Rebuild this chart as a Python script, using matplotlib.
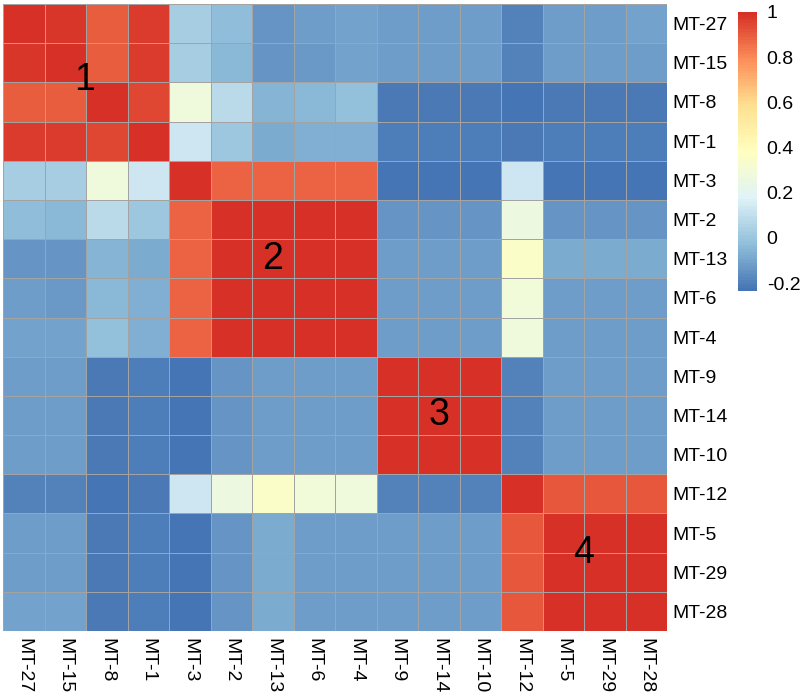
import numpy as np
import matplotlib
matplotlib.use("Agg")
import matplotlib.pyplot as plt
from matplotlib.colors import LinearSegmentedColormap

labels = ["MT-27", "MT-15", "MT-8", "MT-1", "MT-3", "MT-2", "MT-13", "MT-6",
          "MT-4", "MT-9", "MT-14", "MT-10", "MT-12", "MT-5", "MT-29", "MT-28"]

r_mt27 = [1.00, 0.98, 0.90, 0.97, 0.03, -0.03, -0.14, -0.12, -0.11, -0.12, -0.12, -0.12, -0.19, -0.12, -0.12, -0.11]
r_mt15 = [0.98, 1.00, 0.90, 0.97, 0.03, -0.04, -0.14, -0.13, -0.11, -0.12, -0.12, -0.12, -0.19, -0.12, -0.12, -0.12]
r_mt8  = [0.90, 0.90, 1.00, 0.95, 0.28, 0.08, -0.05, -0.04, -0.02, -0.22, -0.22, -0.22, -0.23, -0.22, -0.22, -0.22]
r_mt1  = [0.97, 0.97, 0.95, 1.00, 0.13, 0.00, -0.08, -0.07, -0.07, -0.20, -0.20, -0.20, -0.22, -0.20, -0.20, -0.20]
r_mt3  = [0.03, 0.03, 0.28, 0.13, 1.00, 0.88, 0.88, 0.88, 0.88, -0.23, -0.23, -0.23, 0.13, -0.23, -0.23, -0.23]
r_mt2  = [-0.03, -0.04, 0.08, 0.00, 0.88, 1.00, 0.99, 0.99, 0.99, -0.14, -0.14, -0.14, 0.27, -0.14, -0.14, -0.14]
r_mt13 = [-0.14, -0.14, -0.05, -0.08, 0.88, 0.99, 1.00, 0.99, 0.99, -0.12, -0.12, -0.12, 0.35, -0.08, -0.08, -0.08]
r_mt6  = [-0.12, -0.13, -0.04, -0.07, 0.88, 0.99, 0.99, 1.00, 0.99, -0.12, -0.12, -0.12, 0.29, -0.12, -0.12, -0.12]
r_mt4  = [-0.11, -0.11, -0.02, -0.07, 0.88, 0.99, 0.99, 0.99, 1.00, -0.12, -0.12, -0.12, 0.28, -0.12, -0.12, -0.12]
r_mt9  = [-0.12, -0.12, -0.22, -0.20, -0.23, -0.14, -0.12, -0.12, -0.12, 1.00, 0.99, 0.99, -0.19, -0.12, -0.12, -0.12]
r_mt14 = [-0.12, -0.12, -0.22, -0.20, -0.23, -0.14, -0.12, -0.12, -0.12, 0.99, 1.00, 0.99, -0.19, -0.12, -0.12, -0.12]
r_mt10 = [-0.12, -0.12, -0.22, -0.20, -0.23, -0.14, -0.12, -0.12, -0.12, 0.99, 0.99, 1.00, -0.19, -0.12, -0.12, -0.12]
r_mt12 = [-0.19, -0.19, -0.23, -0.22, 0.13, 0.27, 0.35, 0.29, 0.28, -0.19, -0.19, -0.19, 1.00, 0.91, 0.91, 0.91]
r_mt5  = [-0.12, -0.12, -0.22, -0.20, -0.23, -0.14, -0.08, -0.12, -0.12, -0.12, -0.12, -0.12, 0.91, 1.00, 0.99, 0.99]
r_mt29 = [-0.12, -0.12, -0.22, -0.20, -0.23, -0.14, -0.08, -0.12, -0.12, -0.12, -0.12, -0.12, 0.91, 0.99, 1.00, 0.99]
r_mt28 = [-0.11, -0.11, -0.22, -0.20, -0.23, -0.14, -0.08, -0.12, -0.12, -0.12, -0.12, -0.12, 0.91, 0.99, 0.99, 1.00]

matrix = np.array([r_mt27, r_mt15, r_mt8, r_mt1, r_mt3, r_mt2, r_mt13, r_mt6, r_mt4,
                   r_mt9, r_mt14, r_mt10, r_mt12, r_mt5, r_mt29, r_mt28])

cluster_labels = ["1", "2", "3", "4"]
cluster_x = [1.97, 6.5, 10.5, 14.0]
cluster_y = [1.95, 6.5, 10.5, 14.0]

cbar_ticks = [-0.2, 0, 0.2, 0.4, 0.6, 0.8, 1]
vmin, vmax = -0.235, 1.0

palette = ["#4575B4", "#91BFDB", "#E0F3F8", "#FFFFBF", "#FEE090", "#FC8D59", "#D73027"]
cmap = LinearSegmentedColormap.from_list("rdylbu_r", palette, N=100)

plt.rcParams['font.family'] = ['Liberation Sans', 'DejaVu Sans']

W, H = 800, 696
fig = plt.figure(figsize=(W / 100, H / 100), dpi=100)
x0, x1, y0, y1 = 3, 667, 4, 631
ax = fig.add_axes([x0 / W, 1 - y1 / H, (x1 - x0) / W, (y1 - y0) / H])

n = len(labels)
mesh = ax.pcolormesh(np.arange(n + 1), np.arange(n + 1), matrix, cmap=cmap,
                     vmin=vmin, vmax=vmax, edgecolors="#A3A3A3", linewidth=0.5)
ax.set_xlim(0, n)
ax.set_ylim(n, 0)
for s in ax.spines.values():
    s.set_visible(False)

ax.set_xticks(np.arange(n) + 0.5)
ax.set_xticklabels(labels, rotation=-90, fontsize=14, va="top", ha="center")
ax.set_yticks(np.arange(n) + 0.5)
ax.set_yticklabels(labels, fontsize=14)
ax.yaxis.tick_right()
ax.tick_params(axis="both", length=0)
ax.tick_params(axis="x", pad=5)
ax.tick_params(axis="y", pad=4)

for t, cx, cy in zip(cluster_labels, cluster_x, cluster_y):
    ax.text(cx, cy, t, fontsize=27, ha="center", va="center", color="black")

cax = fig.add_axes([738 / W, 1 - 291 / H, 19 / W, (291 - 12) / H])
cb = fig.colorbar(mesh, cax=cax, ticks=cbar_ticks)
cb.outline.set_visible(False)
cb.ax.tick_params(length=0, pad=7, labelsize=14)
cb.ax.set_yticklabels(["-0.2", "0", "0.2", "0.4", "0.6", "0.8", "1"])

fig.savefig("out.png", dpi=100)
